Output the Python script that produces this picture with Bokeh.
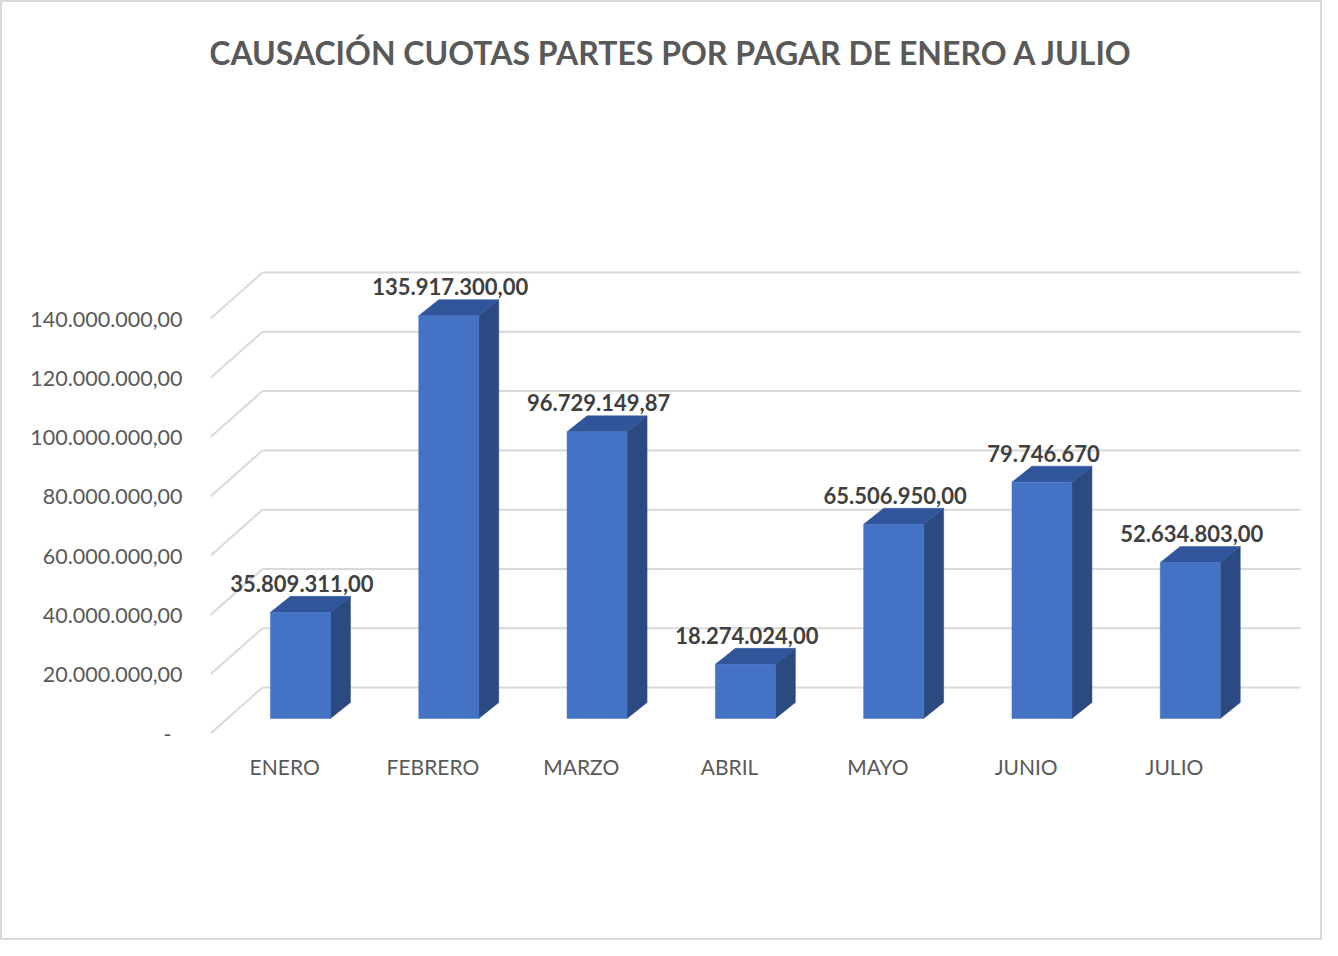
from bokeh.plotting import figure
from bokeh.models import Range1d, FixedTicker, ColumnDataSource
from bokeh.core.properties import value
from bokeh.embed import file_html
from bokeh.resources import INLINE

# ---------------- data ----------------
months = ["ENERO", "FEBRERO", "MARZO", "ABRIL", "MAYO", "JUNIO", "JULIO"]
amounts = [35809311.00, 135917300.00, 96729149.87, 18274024.00, 65506950.00, 79746670.0, 52634803.00]
amount_labels = ["35.809.311,00", "135.917.300,00", "96.729.149,87", "18.274.024,00",
                 "65.506.950,00", "79.746.670", "52.634.803,00"]
y_ticks = [0, 20000000, 40000000, 60000000, 80000000, 100000000, 120000000, 140000000]
y_tick_labels = ["-\u00a0\u00a0", "20.000.000,00", "40.000.000,00", "60.000.000,00", "80.000.000,00",
                 "100.000.000,00", "120.000.000,00", "140.000.000,00"]
title_text = "CAUSACIÓN CUOTAS PARTES POR PAGAR DE ENERO A JULIO"

# ---------------- geometry (style) ----------------
FONT = "Lato"
PX_X = 148.3                 # px per category unit
PX_Y = 2.964 / 1e6           # px per value unit
UY = 1 / PX_Y                # value units per px
W, H = 1322, 940
FRAME_TOP, FRAME_BOTTOM = 0, 731          # figure px
FRAME_LEFT, FRAME_RIGHT = 208, 1300       # figure px
X0 = -0.5
x_end = X0 + (FRAME_RIGHT - FRAME_LEFT) / PX_X
y_end = (FRAME_BOTTOM - FRAME_TOP) * UY

WALL_DX, WALL_DY = 52 / PX_X, 46 * UY          # depth of the back wall
BAR_DX0, BAR_DY0 = 15.8 / PX_X, 15 * UY         # bar front offset into depth
BAR_W = 60 / PX_X
BAR_DX, BAR_DY = 20 / PX_X, 16 * UY              # bar depth
GRID_COLOR = "#D9D9D9"

p = figure(width=W, height=H, output_backend="svg", toolbar_location=None,
           x_range=Range1d(X0, x_end), y_range=Range1d(0, y_end),
           min_border_left=FRAME_LEFT, min_border_right=W - FRAME_RIGHT,
           min_border_top=FRAME_TOP, min_border_bottom=H - FRAME_BOTTOM)
p.outline_line_color = None
p.xgrid.visible = False
p.ygrid.visible = False
p.styles = {"border": "2px solid #D9D9D9"}

# ---------- walls (gridlines) ----------
n = len(months)
x_left = X0
x_right = X0 + n
p.segment(x0=[x_left + WALL_DX] * len(y_ticks), y0=[t + WALL_DY for t in y_ticks],
          x1=[x_right + WALL_DX] * len(y_ticks), y1=[t + WALL_DY for t in y_ticks],
          line_color=GRID_COLOR, line_width=2)
p.segment(x0=[x_left] * len(y_ticks), y0=y_ticks,
          x1=[x_left + WALL_DX] * len(y_ticks), y1=[t + WALL_DY for t in y_ticks],
          line_color=GRID_COLOR, line_width=2)

# ---------- 3D bars ----------
xs_front, ys_front, xs_side, ys_side, xs_top, ys_top = [], [], [], [], [], []
lab_x, lab_y = [], []
for i, v in enumerate(amounts):
    l = i + BAR_DX0 - BAR_W / 2
    r = l + BAR_W
    b = BAR_DY0
    t = BAR_DY0 + v
    xs_front.append([l, r, r, l]); ys_front.append([b, b, t, t])
    xs_side.append([r, r + BAR_DX, r + BAR_DX, r]); ys_side.append([b, b + BAR_DY, t + BAR_DY, t])
    xs_top.append([l, r, r + BAR_DX, l + BAR_DX]); ys_top.append([t, t, t + BAR_DY, t + BAR_DY])
    lab_x.append(i + BAR_DX0 + 1.5 / PX_X)
    lab_y.append(t + BAR_DY + 13 * UY)

p.patches(xs_side, ys_side, fill_color="#2A4A80", line_color="#2A4A80", line_width=0.5)
p.patches(xs_top, ys_top, fill_color="#30559A", line_color="#30559A", line_width=0.5)
p.patches(xs_front, ys_front, fill_color="#4472C4", line_color="#4472C4", line_width=0.5)

src = ColumnDataSource(dict(x=lab_x, y=lab_y, text=amount_labels))
p.text(x="x", y="y", text="text", source=src, text_font=value(FONT), text_font_style="bold",
       text_font_size="22px", text_color="#404040", text_align="center", text_baseline="middle")

# ---------- title ----------
p.text(x=[X0 + (671 - 210) / PX_X], y=[(733 - 52) * UY], text=[title_text],
       text_font=value(FONT), text_font_style="bold", text_font_size="32px",
       text_color="#595959", text_align="center", text_baseline="middle")

# ---------- axes ----------
p.xaxis.ticker = FixedTicker(ticks=list(range(n)))
p.xaxis.major_label_overrides = {i: m for i, m in enumerate(months)}
p.xaxis.axis_line_color = None
p.xaxis.major_tick_line_color = None
p.xaxis.minor_tick_line_color = None
p.xaxis.major_label_standoff = 14
p.xaxis.major_label_text_font = FONT
p.xaxis.major_label_text_font_size = "21px"
p.xaxis.major_label_text_color = "#595959"

p.yaxis.ticker = FixedTicker(ticks=y_ticks)
p.yaxis.major_label_overrides = {t: s for t, s in zip(y_ticks, y_tick_labels)}
p.yaxis.axis_line_color = None
p.yaxis.major_tick_line_color = None
p.yaxis.minor_tick_line_color = None
p.yaxis.major_label_standoff = 22
p.yaxis.major_label_text_font = FONT
p.yaxis.major_label_text_font_size = "21.5px"
p.yaxis.major_label_text_color = "#595959"

open("out.html", "w").write(file_html(p, INLINE))
